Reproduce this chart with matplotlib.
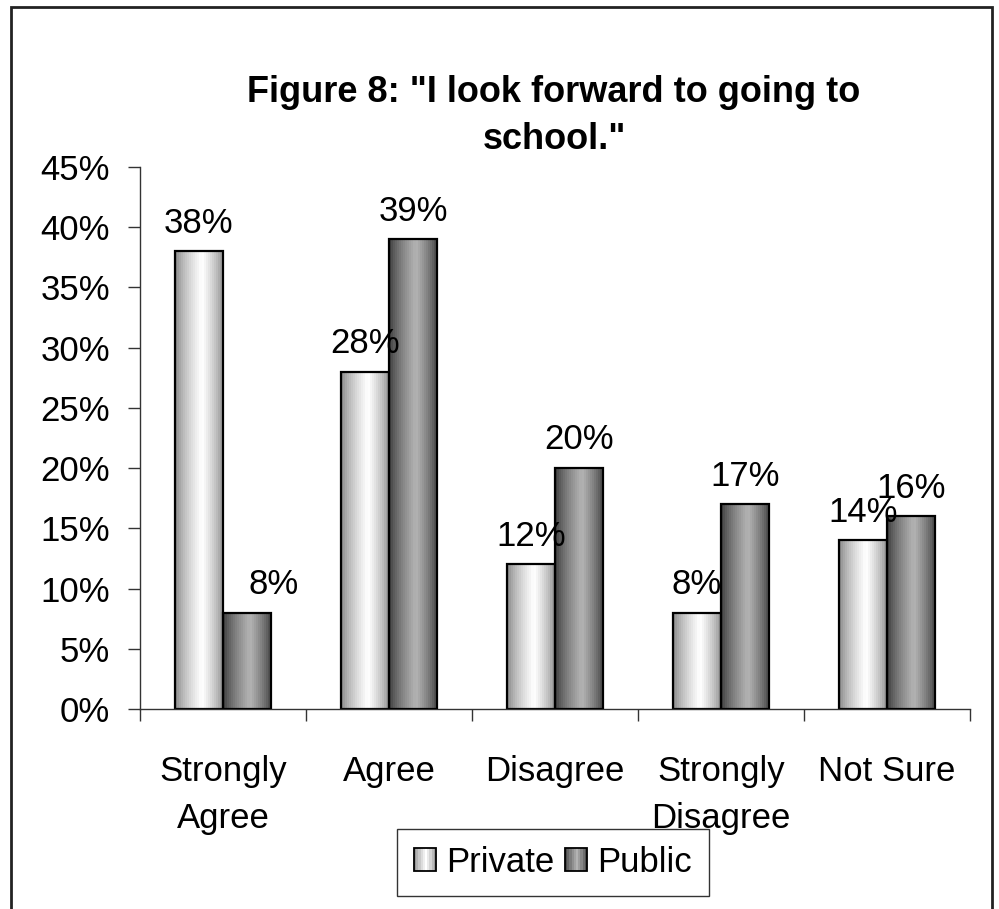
import numpy as np
import matplotlib
matplotlib.use("Agg")
import matplotlib.pyplot as plt
from matplotlib.patches import Rectangle, Patch
from matplotlib.legend_handler import HandlerBase
from matplotlib.ticker import FixedLocator, PercentFormatter

plt.rcParams['font.family'] = ['Liberation Sans', 'DejaVu Sans']

categories = ['Strongly\nAgree', 'Agree', 'Disagree', 'Strongly\nDisagree', 'Not Sure']
private = [38, 28, 12, 8, 14]
public = [8, 39, 20, 17, 16]
series_names = ['Private', 'Public']

# grey levels (edge, centre) of the cylinder-like shading
shade_private = (0.50, 1.00)
shade_public = (0.20, 0.70)


def shade_profile(lo, hi, n=24, peak=0.55):
    t = (np.arange(n) + 0.5) / n
    p = np.where(t < peak, t / peak, (1 - t) / (1 - peak))
    return lo + (hi - lo) * p ** 0.7


class GradientHandler(HandlerBase):
    def __init__(self, lo, hi):
        super().__init__()
        self.lo, self.hi = lo, hi

    def create_artists(self, legend, orig_handle, xdescent, ydescent,
                       width, height, fontsize, trans):
        vals = shade_profile(self.lo, self.hi, n=10)
        arts = []
        step = width / len(vals)
        for i, v in enumerate(vals):
            arts.append(Rectangle((-xdescent + i * step, -ydescent), step * 1.05, height,
                                  facecolor=str(v), edgecolor='none', transform=trans))
        arts.append(Rectangle((-xdescent, -ydescent), width, height, facecolor='none',
                              edgecolor='black', lw=1.3, transform=trans))
        return arts


fig = plt.figure(figsize=(9.99, 9.09), dpi=100)
ax = fig.add_axes([0.1401, 0.22, 0.971 - 0.1401, 0.8163 - 0.22])

x = np.arange(len(categories))
w = 0.29

layers = [(private, -w / 2, shade_private, 2), (public, w / 2, shade_public, 4)]
for k, (vals, off, (lo, hi), z) in enumerate(layers):
    bars = ax.bar(x + off, vals, w, facecolor='none', edgecolor='black', lw=1.6, zorder=z + 0.5)
    grad = shade_profile(lo, hi)[None, :]
    for i, (b, v) in enumerate(zip(bars, vals)):
        ax.imshow(grad, cmap='gray', vmin=0, vmax=1, aspect='auto', interpolation='nearest',
                  extent=(b.get_x(), b.get_x() + b.get_width(), 0, b.get_height()), zorder=z)
        # push a public label to the right when the private bar beside it is much taller
        dx = 19 if (k == 1 and private[i] > v + 6) else 0
        ax.annotate(f'{v}%', (b.get_x() + b.get_width() / 2, v), xytext=(dx, 13.5),
                    textcoords='offset points', ha='center', va='baseline',
                    fontsize=25, zorder=8)

ax.set_xlim(-0.5, len(categories) - 0.5)
ax.set_ylim(0, 45)
ax.set_yticks(np.arange(0, 46, 5))
ax.yaxis.set_major_formatter(PercentFormatter(decimals=0))
ax.set_xticks(x)
ax.set_xticklabels(categories, fontsize=25, linespacing=1.55)
ax.xaxis.set_minor_locator(FixedLocator(np.arange(-0.5, len(categories), 1.0)))
ax.tick_params(axis='x', which='major', length=0, pad=33)
ax.tick_params(axis='x', which='minor', length=8.6, width=1, color='#333333', direction='out')
ax.tick_params(axis='y', length=8.6, width=1, color='#333333', labelsize=25, pad=13)

for s in ['top', 'right']:
    ax.spines[s].set_visible(False)
for s in ['left', 'bottom']:
    ax.spines[s].set_color('#333333')
    ax.spines[s].set_linewidth(1)

fig.text(0.5546, 0.872, 'Figure 8: "I look forward to going to\nschool."', ha='center',
         va='center', fontsize=26, fontweight='bold', linespacing=1.45)

h_priv = Patch(label=series_names[0])
h_pub = Patch(label=series_names[1])
leg = fig.legend(handles=[h_priv, h_pub], loc='center', bbox_to_anchor=(0.5536, 0.0512),
                 ncol=2, fontsize=25, frameon=True, fancybox=False, edgecolor='black',
                 handlelength=0.63, handleheight=0.63, handletextpad=0.3, columnspacing=0.3,
                 borderpad=0.5,
                 handler_map={h_priv: GradientHandler(*shade_private),
                              h_pub: GradientHandler(*shade_public)})
leg.get_frame().set_linewidth(1)
leg.set_zorder(10)

# outer border of the chart area
fig.patches.append(Rectangle((11 / 999, -0.01), (992 - 11) / 999, 1.01 - 7 / 909,
                             transform=fig.transFigure, facecolor='none',
                             edgecolor='#222222', lw=2))

fig.savefig('out.png', dpi=100)
